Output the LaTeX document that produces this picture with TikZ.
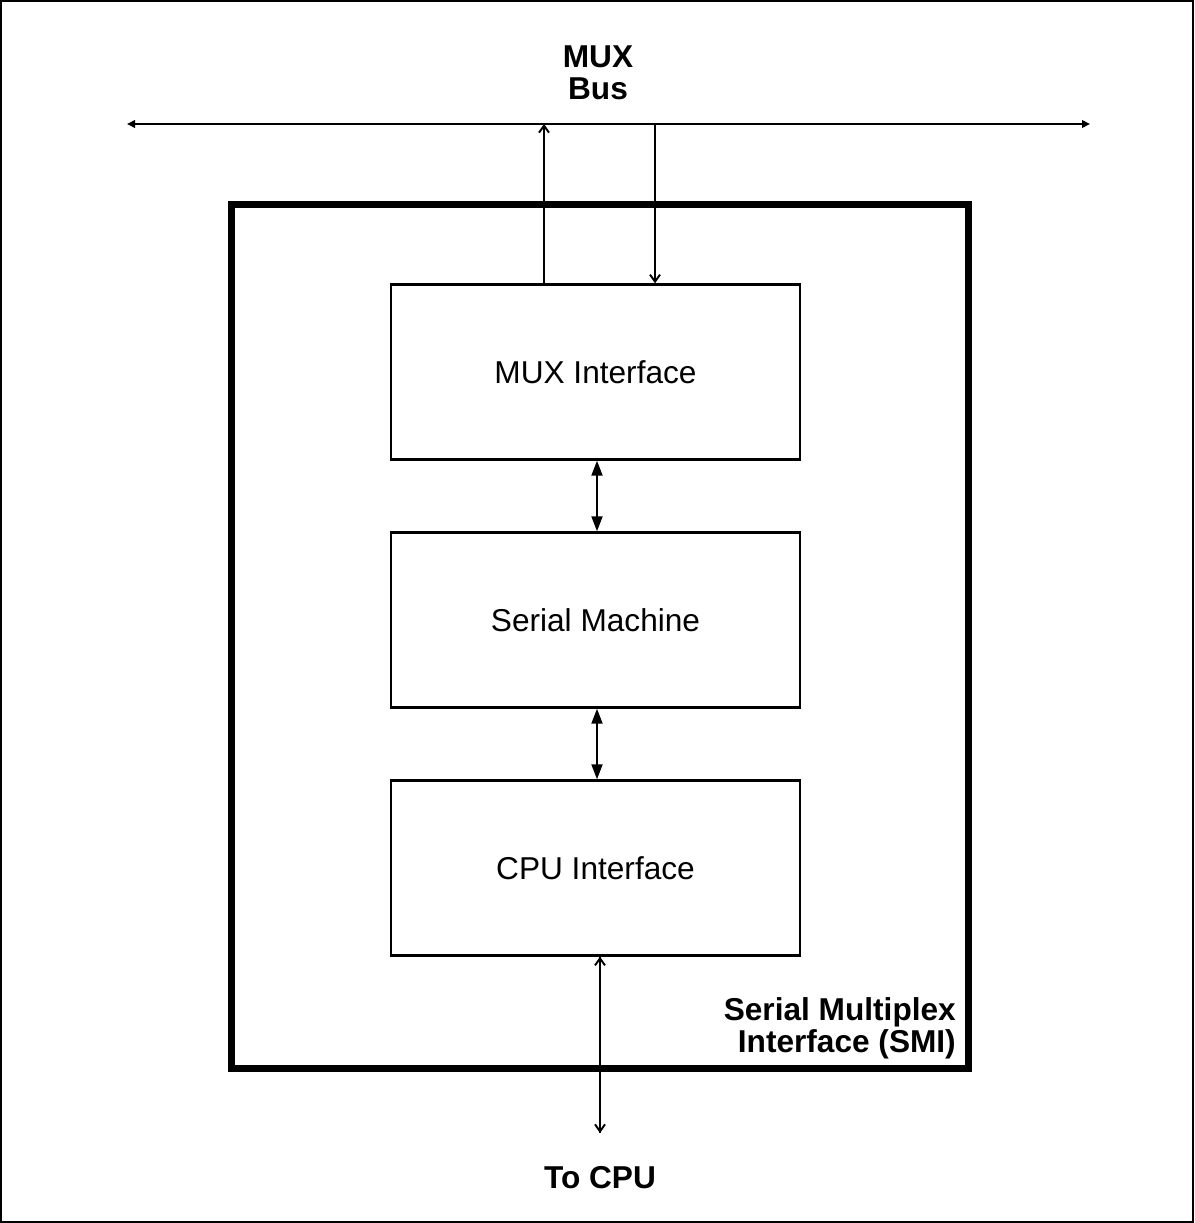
\documentclass[tikz,border=0pt]{standalone}
\usepackage{fontspec}
\setmainfont{Liberation Sans}
\usetikzlibrary{arrows.meta}
\begin{document}
\begin{tikzpicture}[x=0.02cm, y=-0.02cm,
    block/.style={draw, line width=1.4pt, minimum width=8.18cm, minimum height=3.5cm, font=\fontsize{18}{20}\selectfont},
    smibox/.style={draw, line width=4pt, minimum width=14.76cm, minimum height=17.3cm},
    label/.style={font=\fontsize{18}{18}\selectfont\bfseries, align=center},
    wire/.style={line width=1.1pt},
    busend/.style={-{Triangle[length=0.16cm,width=0.15cm]}},
    barb/.style={-{Straight Barb[length=0.14cm,width=0.2cm]}},
    linkend/.style={{Triangle[length=0.3cm,width=0.22cm]}-{Triangle[length=0.3cm,width=0.22cm]}}]
    \useasboundingbox (0,0) rectangle (1194,1223);
    \draw[line width=0.8pt] (1,1) rectangle (1193,1222);
    % Outer interface and the three blocks
    \node[smibox] (smi) at (600,636.5) {};
    \node[block] (mux) at (595.5,372) {MUX Interface};
    \node[block] (serial) at (595.5,620) {Serial Machine};
    \node[block] (cpu) at (595.5,868) {CPU Interface};
    % Labels
    \node[label] (buslabel) at (598,73) {MUX\\Bus};
    \node[label, anchor=east, align=right] (smilabel) at (962,1028) {Serial Multiplex\\Interface (SMI)};
    \node[label] (tocpu) at (600,1178) {To CPU};
    % Bus line
    \coordinate (busl) at (127,124);
    \coordinate (busr) at (1090,124);
    \coordinate (busup) at (544,124);
    \coordinate (busdown) at (655,124);
    \draw[wire, busend] (busup) -- (busl);
    \draw[wire, busend] (busup) -- (busr);
    \draw[wire, barb] (mux.north -| busup) -- (busup);
    \draw[wire, barb] (busdown) -- (mux.north -| busdown);
    % Links between the blocks
    \coordinate (link) at (597,0);
    \draw[wire, linkend] (mux.south -| link) -- (serial.north -| link);
    \draw[wire, linkend] (serial.south -| link) -- (cpu.north -| link);
    % Link to CPU
    \coordinate (cpuend) at (600,1133);
    \draw[wire, barb] (cpuend) -- (cpu.south -| cpuend);
    \draw[wire, barb] (cpu.south -| cpuend) -- (cpuend);
\end{tikzpicture}
\end{document}
